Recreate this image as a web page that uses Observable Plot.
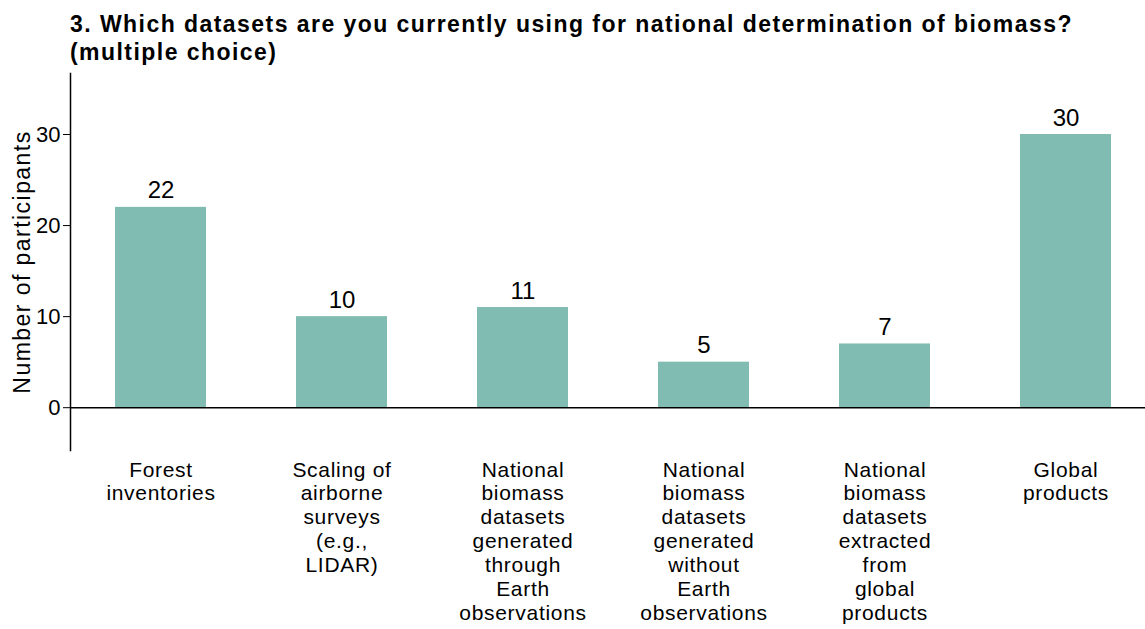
<!DOCTYPE html>
<html>
<head>
<meta charset="utf-8">
<script src="https://cdn.jsdelivr.net/npm/d3@7"></script>
<script src="https://cdn.jsdelivr.net/npm/@observablehq/plot@0.6"></script>
<style>
  html, body { margin: 0; padding: 0; background: #fff; }
  body { width: 1145px; height: 629px; overflow: hidden; font-family: "Liberation Sans", Arial, sans-serif; }
  #title { height: 70px; box-sizing: border-box; padding: 10px 0 0 70px; font-size: 23px; font-weight: bold; line-height: 28px; letter-spacing: 1.45px; color: #000; white-space: nowrap; }
  #chart svg { display: block; }
  #chart g[aria-label="x-axis tick label"] text { letter-spacing: 0.7px; }
</style>
</head>
<body>
<div id="title">3. Which datasets are you currently using for national determination of biomass?<br>(multiple choice)</div>
<div id="chart"></div>
<script>
const categories = [
  "Forest inventories",
  "Scaling of airborne surveys (e.g., LIDAR)",
  "National biomass datasets generated through Earth observations",
  "National biomass datasets generated without Earth observations",
  "National biomass datasets extracted from global products",
  "Global products"
];
const tickLabels = [
  "Forest\ninventories",
  "Scaling of\nairborne\nsurveys\n(e.g.,\nLIDAR)",
  "National\nbiomass\ndatasets\ngenerated\nthrough\nEarth\nobservations",
  "National\nbiomass\ndatasets\ngenerated\nwithout\nEarth\nobservations",
  "National\nbiomass\ndatasets\nextracted\nfrom\nglobal\nproducts",
  "Global\nproducts"
];
const counts = [22, 10, 11, 5, 7, 30];
const yTicks = [0, 10, 20, 30];
const yLabel = "Number of participants";

const data = categories.map((c, i) => ({category: c, count: counts[i]}));
const labelOf = new Map(categories.map((c, i) => [c, tickLabels[i]]));

const plot = Plot.plot({
  width: 1145,
  height: 559,
  marginLeft: 70,
  marginRight: 0,
  marginTop: 3,
  marginBottom: 179,
  style: {fontFamily: "'Liberation Sans', Arial, sans-serif", color: "#000", background: "#fff"},
  x: {domain: categories, range: [70, 1156], paddingInner: 0.5, paddingOuter: 0.25, label: null},
  y: {domain: [-4.7, 36.7], label: null},
  marks: [
    Plot.barY(data, {x: "category", y: "count", fill: "#80bcb1"}),
    Plot.ruleY([0], {stroke: "#000", strokeWidth: 1.5}),
    Plot.frame({anchor: "left", stroke: "#000", strokeWidth: 1.5}),
    Plot.axisY({ticks: yTicks, tickSize: 7, tickPadding: 3, fontSize: 22, label: null, stroke: "#000", strokeWidth: 1}),
    Plot.axisX({tickSize: 0, tickPadding: 9, fontSize: 21, lineHeight: 1.14, tickFormat: d => labelOf.get(d), label: null}),
    Plot.text(data, {x: "category", y: "count", text: d => String(d.count), lineAnchor: "bottom", dy: -9, fontSize: 24, fill: "#000"}),
    Plot.text([yLabel], {frameAnchor: "left", textAnchor: "middle", rotate: -90, dx: -48, fontSize: 23, fill: "#000"})
  ]
});
const textGroups = plot.querySelectorAll('g[aria-label="text"]');
if (textGroups.length) textGroups[textGroups.length - 1].style.letterSpacing = "1.45px";
document.getElementById("chart").appendChild(plot);
</script>
</body>
</html>
